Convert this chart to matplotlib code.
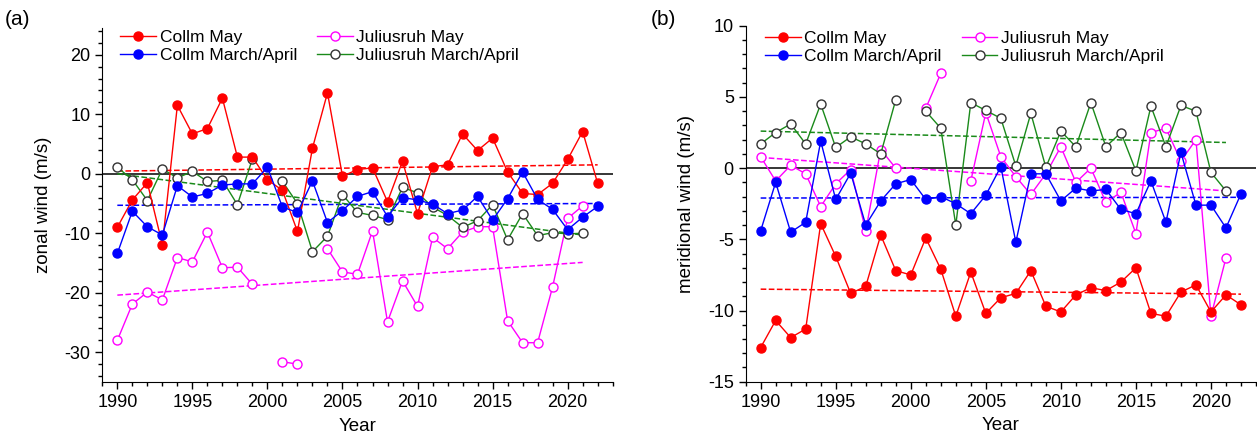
import numpy as np
import matplotlib.pyplot as plt
from matplotlib.ticker import MultipleLocator

nan = np.nan
years = np.arange(1990, 2023)

# (a) zonal wind
collm_may_u = [-9.0, -4.4, -1.5, -11.9, 11.5, 6.7, 7.6, 12.7, 2.8, 2.8,
               -1.0, -2.8, -9.7, 4.3, 13.6, -0.4, 0.7, 1.0, -4.7, 2.1,
               -6.7, 1.2, 1.5, 6.7, 3.9, 6.0, 0.3, -3.3, -3.5, -1.6,
               2.4, 7.1, -1.6]
collm_ma_u = [-13.4, -6.3, -8.9, -10.3, -2.0, -3.9, -3.3, -1.9, -1.7, -1.7,
              1.1, -5.6, -6.5, -1.2, -8.2, -6.2, -3.8, -3.0, -7.2, -4.0,
              -4.4, -5.1, -6.7, -6.1, -3.8, -7.8, -4.2, 0.3, -4.3, -6.0,
              -9.4, -7.3, -5.5]
juli_may_u = [-28.0, -21.9, -19.9, -21.2, -14.1, -14.8, -9.8, -15.8, -15.7, -18.6,
              nan, -31.6, -32.0, nan, -12.6, -16.5, -16.9, -9.6, -24.9, -18.0,
              -22.3, -10.7, -12.6, -9.8, -8.9, -8.9, -24.7, -28.4, -28.4, -19.0,
              -7.5, -5.4, nan]
juli_ma_u = [1.1, -1.0, -4.5, 0.8, -0.7, 0.4, -1.3, -1.1, -5.2, 2.5,
             nan, -1.3, -5.0, -13.1, -10.5, -3.5, -6.5, -7.0, -7.7, -2.3,
             -3.2, -5.6, -7.0, -9.0, -7.9, -5.2, -11.1, -6.7, -10.4, -9.9,
             -10.1, -10.0, nan]

# (b) meridional wind
collm_may_v = [-12.6, -10.7, -11.9, -11.3, -3.9, -6.2, -8.8, -8.3, -4.7, -7.2,
               -7.5, -4.9, -7.1, -10.4, -7.3, -10.2, -9.1, -8.8, -7.2, -9.7,
               -10.1, -8.9, -8.4, -8.6, -8.0, -7.0, -10.2, -10.4, -8.7, -8.2,
               -10.1, -8.9, -9.6]
collm_ma_v = [-4.4, -1.0, -4.5, -3.8, 1.9, -2.2, -0.35, -4.0, -2.3, -1.1,
              -0.8, -2.2, -2.0, -2.5, -3.2, -1.9, 0.1, -5.2, -0.4, -0.4,
              -2.3, -1.4, -1.6, -1.5, -2.9, -3.2, -0.9, -3.8, 1.1, -2.6,
              -2.6, -4.2, -1.8]
juli_may_v = [0.8, -0.9, 0.2, -0.4, -2.7, -1.1, -0.1, -4.4, 1.3, 0.0,
              nan, 4.2, 6.65, nan, -0.9, 3.9, 0.8, -0.6, -1.85, -0.4,
              1.5, -1.0, 0.0, -2.4, -1.7, -4.6, 2.5, 2.8, 0.5, 2.0,
              -10.4, -6.3, nan]
juli_ma_v = [1.7, 2.5, 3.1, 1.7, 4.5, 1.45, 2.2, 1.7, 1.0, 4.8,
             nan, 4.0, 2.8, -4.0, 4.6, 4.05, 3.5, 0.15, 3.85, 0.05,
             2.6, 1.5, 4.6, 1.5, 2.5, -0.2, 4.35, 1.5, 4.4, 4.0,
             -0.3, -1.6, nan]

# linear trends (start, end values)
trend_years_collm = [1990, 2022]
trend_years_juli = [1990, 2021]
trend_u = {'collm_may': [0.45, 1.5], 'collm_ma': [-5.3, -5.0],
           'juli_may': [-20.4, -14.9], 'juli_ma': [0.0, -10.3]}
trend_v = {'collm_may': [-8.5, -8.85], 'collm_ma': [-2.1, -2.05],
           'juli_may': [0.75, -1.6], 'juli_ma': [2.6, 1.8]}

plt.rcParams['font.family'] = ['Liberation Sans', 'DejaVu Sans']
plt.rcParams['font.size'] = 13
plt.rcParams['axes.unicode_minus'] = False

RED, BLUE, MAG, GRN = '#ff0000', '#0000ff', '#ff00ff', '#1a8a1a'

fig = plt.figure(figsize=(12.57, 4.37), dpi=100)
ax1 = fig.add_axes([0.0814, 0.1259, 0.406, 0.810])
ax2 = fig.add_axes([0.5932, 0.1265, 0.406, 0.8146])


def draw(ax, cm, cma, jm, jma, tr):
    ax.axhline(0, color='black', lw=1.1, zorder=1)
    ax.plot(trend_years_collm, tr['collm_may'], '--', color=RED, lw=1.1, zorder=2)
    ax.plot(trend_years_collm, tr['collm_ma'], '--', color=BLUE, lw=1.1, zorder=2)
    ax.plot(trend_years_juli, tr['juli_may'], '--', color=MAG, lw=1.1, zorder=2)
    ax.plot(trend_years_juli, tr['juli_ma'], '--', color=GRN, lw=1.1, zorder=2)
    h1, = ax.plot(years, cm, '-o', color=RED, lw=1, ms=6.5, mfc=RED, mec=RED,
                  label='Collm May', zorder=4)
    h2, = ax.plot(years, cma, '-o', color=BLUE, lw=1, ms=6.5, mfc=BLUE, mec=BLUE,
                  label='Collm March/April', zorder=4)
    h3, = ax.plot(years, jm, '-o', color=MAG, lw=1, ms=6.5, mfc='white', mec=MAG,
                  mew=1, label='Juliusruh May', zorder=3)
    h4, = ax.plot(years, jma, '-o', color=GRN, lw=1, ms=6.5, mfc='white', mec='#333333',
                  mew=1, label='Juliusruh March/April', zorder=3)
    ax.set_xlim(1989, 2023)
    ax.xaxis.set_major_locator(MultipleLocator(5))
    ax.xaxis.set_minor_locator(MultipleLocator(1))
    ax.spines['top'].set_visible(False)
    ax.spines['right'].set_visible(False)
    ax.tick_params(which='major', direction='out', length=5, width=1, labelsize=13)
    ax.tick_params(which='minor', direction='out', length=3, width=1)
    ax.set_xlabel('Year', fontsize=13.5, labelpad=5)
    return [h1, h2, h3, h4]


leg_kw = dict(loc='upper left', ncol=2, frameon=False, handlelength=2.05,
              handletextpad=0.22, columnspacing=1.15, labelspacing=0.15,
              borderpad=0, borderaxespad=0, fontsize=12.5)

hs = draw(ax1, collm_may_u, collm_ma_u, juli_may_u, juli_ma_u, trend_u)
ax1.set_ylim(-35, 24.5)
ax1.yaxis.set_major_locator(MultipleLocator(10))
ax1.yaxis.set_minor_locator(MultipleLocator(2))
ax1.set_ylabel('zonal wind (m/s)', fontsize=13.5, labelpad=9)
ax1.legend(handles=hs, bbox_to_anchor=(0.035, 0.995), **leg_kw)

hs = draw(ax2, collm_may_v, collm_ma_v, juli_may_v, juli_ma_v, trend_v)
ax2.set_ylim(-15, 10)
ax2.yaxis.set_major_locator(MultipleLocator(5))
ax2.yaxis.set_minor_locator(MultipleLocator(1))
ax2.set_ylabel('meridional wind (m/s)', fontsize=13.5, labelpad=9)
ax2.legend(handles=hs, bbox_to_anchor=(0.038, 0.986), **leg_kw)

fig.text(0.004, 0.943, '(a)', fontsize=15)
fig.text(0.518, 0.943, '(b)', fontsize=15)

fig.savefig('out.png', dpi=100)
